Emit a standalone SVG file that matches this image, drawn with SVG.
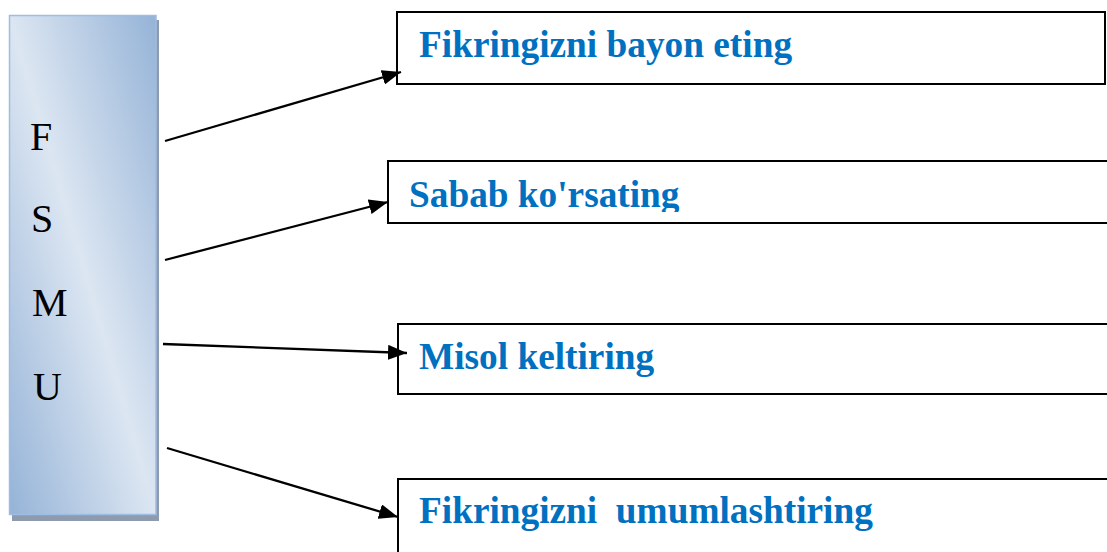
<svg xmlns="http://www.w3.org/2000/svg" width="1107" height="552" viewBox="0 0 1107 552">
  <style>
    .letter { font-family: "Liberation Serif", "Times New Roman", serif; font-size: 40px; fill: #000; }
    .label { font-family: "Liberation Serif", "Times New Roman", serif; font-size: 37.3px; font-weight: bold; fill: #0070c0; white-space: pre; }
    .box { fill: #fff; stroke: #000; stroke-width: 2; }
    .conn { stroke: #000; stroke-width: 2.3; fill: none; marker-end: url(#arrow); }
  </style>
  <defs>
    <linearGradient id="grad" x1="0" y1="1" x2="1" y2="0">
      <stop offset="0" stop-color="#95b3d7"/>
      <stop offset="0.5" stop-color="#dce6f2"/>
      <stop offset="1" stop-color="#95b3d7"/>
    </linearGradient>
    <marker id="arrow" markerUnits="userSpaceOnUse" markerWidth="19" markerHeight="15" refX="19" refY="7.5" orient="auto">
      <path d="M0,0 L19,7.5 L0,15 z" fill="#000"/>
    </marker>
    <clipPath id="clip2">
      <rect x="388" y="161" width="719" height="51"/>
    </clipPath>
  </defs>
  <rect width="1107" height="552" fill="#fff"/>

  <g id="fsmu">
    <rect x="12" y="20" width="147" height="501" fill="#8e9bae"/>
    <rect x="9.5" y="15.5" width="146.5" height="499" fill="url(#grad)" stroke="#9dbde3" stroke-width="1.5"/>
    <text class="letter" x="30" y="150">F</text>
    <text class="letter" x="31" y="232">S</text>
    <text class="letter" x="32" y="316">M</text>
    <text class="letter" x="33" y="400">U</text>
  </g>

  <g id="box1">
    <rect class="box" x="397" y="12" width="708" height="72"/>
    <text class="label" x="419" y="57">Fikringizni bayon eting</text>
  </g>
  <g id="box2">
    <rect class="box" x="388" y="161" width="740" height="62"/>
    <text class="label" x="409" y="207" clip-path="url(#clip2)">Sabab ko'rsating</text>
  </g>
  <g id="box3">
    <rect class="box" x="398" y="324" width="730" height="70"/>
    <text class="label" x="419" y="369">Misol keltiring</text>
  </g>
  <g id="box4">
    <rect class="box" x="398" y="479" width="730" height="100"/>
    <text class="label" x="419" y="523" xml:space="preserve">Fikringizni  umumlashtiring</text>
  </g>

  <g id="connectors">
    <line class="conn" x1="165" y1="141" x2="401" y2="72"/>
    <line class="conn" x1="165" y1="260" x2="388" y2="202"/>
    <line class="conn" x1="163" y1="344" x2="407" y2="353"/>
    <line class="conn" x1="167" y1="448" x2="398" y2="517"/>
  </g>
</svg>
